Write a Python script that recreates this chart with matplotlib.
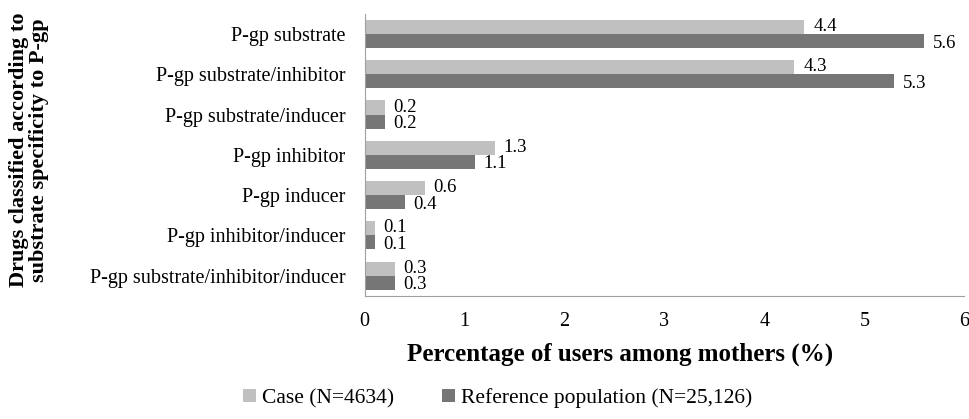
import matplotlib.pyplot as plt
import numpy as np

plt.rcParams['font.family'] = ['Liberation Serif', 'DejaVu Serif']

categories = ["P-gp substrate", "P-gp substrate/inhibitor", "P-gp substrate/inducer",
              "P-gp inhibitor", "P-gp inducer", "P-gp inhibitor/inducer",
              "P-gp substrate/inhibitor/inducer"]
case = [4.4, 4.3, 0.2, 1.3, 0.6, 0.1, 0.3]
reference = [5.6, 5.3, 0.2, 1.1, 0.4, 0.1, 0.3]

light = "#c0c0c0"
dark = "#767676"

fig = plt.figure(figsize=(9.7, 4.19), dpi=100)
ax = fig.add_axes([0.376, 0.294, 0.618, 0.673])

y = np.arange(len(categories))
h = 0.35
ax.barh(y - h / 2, case, height=h, color=light, label="Case (N=4634)")
ax.barh(y + h / 2, reference, height=h, color=dark, label="Reference population (N=25,126)")

# value labels, centred on each bar
for yi, v in zip(y, case):
    ax.text(v + 0.09, yi - h / 2 - 0.01, f"{v}", va="center", ha="left", fontsize=13.5)
for yi, v in zip(y, reference):
    ax.text(v + 0.09, yi + h / 2 + 0.05, f"{v}", va="center", ha="left", fontsize=13.5)

ax.set_yticks(y)
ax.set_yticklabels(categories, fontsize=14.5)
ax.set_ylim(len(categories) - 0.5, -0.5)
ax.set_xlim(0, 6)
ax.set_xticks(range(7))
ax.tick_params(axis="x", labelsize=14.5, length=0, pad=12)
ax.tick_params(axis="y", length=0, pad=14)

for s in ["top", "right"]:
    ax.spines[s].set_visible(False)
ax.spines["left"].set_color("#a0a0a0")
ax.spines["bottom"].set_color("#a0a0a0")

fig.text(0.639, 0.155, "Percentage of users among mothers (%)", ha="center", va="center",
         fontsize=18, fontweight="bold")
fig.text(0.03, 0.642, "Drugs classified according to\nsubstrate specificity to P-gp",
         rotation=90, ha="center", va="center", fontsize=16, fontweight="bold", linespacing=1.0)

fig.legend(loc="center", bbox_to_anchor=(0.513, 0.05), ncol=2, frameon=False,
           fontsize=15.5, handlelength=0.6, handleheight=0.6, handletextpad=0.3, columnspacing=2.2)

fig.savefig("out.png", dpi=100)
